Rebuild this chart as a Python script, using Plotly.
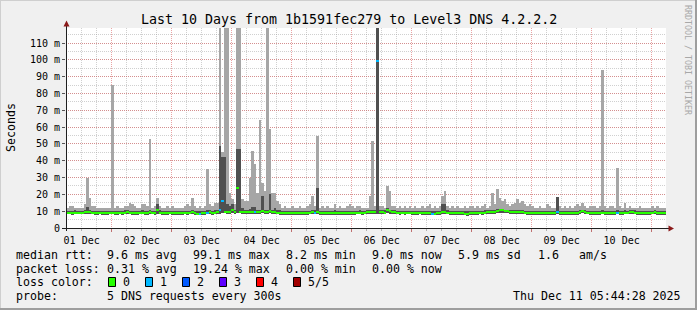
import plotly.graph_objects as go
import pandas as pd

# ---------------- data (hourly consolidated steps, values in ms) ----------------
t_start = "2025-12-01 05:44:28"
t_end = "2025-12-11 05:44:28"

# smoke top (max of pings per step)
smoke_hi = [
    12,13,13,12,12,12,12,14,30,18,13,13,12,12,12,12,12,12,
    85,12,13,12,12,13,13,15,14,13,12,12,14,14,13,53,12,13,18,13,12,12,13,12,
    13,12,12,12,12,13,14,13,18,13,12,13,12,13,35,14,13,15,15,120,45,120,120,21,
    17,14,120,120,17,16,16,30,46,38,21,64,27,22,120,59,21,21,16,14,12,13,12,12,
    13,12,12,13,12,12,13,14,19,13,55,12,13,12,13,12,12,14,12,13,12,12,13,14,
    13,12,13,13,12,12,12,19,52,13,120,13,13,12,25,22,13,13,12,13,12,13,12,13,
    12,13,12,12,13,12,13,14,12,13,12,13,19,22,13,12,13,12,13,12,12,13,12,13,
    13,12,13,12,13,14,12,13,21,14,23,18,16,17,14,13,14,15,17,15,16,14,13,14,
    13,12,12,13,12,12,14,13,12,12,18,13,12,13,12,13,12,13,14,13,15,13,12,13,
    13,13,12,13,94,13,12,13,13,12,36,13,12,15,12,13,12,12,12,13,12,12,12,12,
    13,12,13,12,12,12,
]

# inner smoke top (4th of 5 sorted pings)
smoke_inner = [
    10,10,10,10.5,10,10,10,10.5,12.4,11,10,10,10,10,10,10,10,10,
    10,10,10,10,10,10.5,10.5,10,10,10,10,10,10.5,10,10,10.5,10,10,14,10.5,10,10,10,10,
    10,10,10,10,10,10,10,10,10.5,10,10,10,10,10,10.5,10.5,10,10.5,10.5,49,42,42,14,13,
    14,11,47,47,12,11,11,11.5,12.5,12.5,11,11,19,11,11,20,11,12,10.5,10.5,10,10,10,10,
    10,10,10,10,10,10,10,10,10.5,10.5,24,10,10,10,10,10,10,10.5,10,10,10,10,10,10,
    10,10,10,10.5,10,10,10.5,11,11,10.5,120,11,10.5,10.5,12,11,10.5,10.5,10,10,10,10,10,10,
    10,10,10,10,10,10,10,10,10,10,10,10,14,14,10.5,10,10,10,10,10,10,10,10,10,
    10,10,10,10,10,10.5,10.5,10.5,11,10.5,11.5,11.5,11.5,11,11,10.5,10.5,10.5,10.5,10.5,10.5,10,10,10,
    10,10,10,10,10,10,10,10,10,10,18.4,10,10,10,10,10,10,10,10,10.5,11,10.5,10,10,
    10,10,10,10,10.5,10,10,10,10,10,10.5,10,10,10.5,10,10.5,10.7,10.5,10,10,10,10,10,10,
    10,10.7,10,10,10,10,
]

# smoke bottom (min of pings per step)
smoke_lo = [
    8.2,8.1,8.0,8.3,8.2,8.1,8.2,8.3,8.4,8.3,8.1,8.0,8.0,8.1,8.0,7.9,8.0,8.1,
    8.2,8.0,8.0,8.1,8.0,8.2,8.3,8.1,8.0,8.0,8.0,8.1,8.2,8.0,8.0,8.3,8.1,8.0,8.6,8.2,8.0,8.0,8.0,8.1,
    8.0,8.0,7.9,8.0,7.9,8.1,8.0,8.2,8.3,8.0,7.8,7.6,7.9,8.0,8.1,8.2,8.0,8.2,8.3,8.6,8.8,8.7,8.6,8.5,
    8.8,8.5,8.9,8.7,8.4,8.5,8.3,8.4,8.5,8.4,8.3,8.6,8.8,8.4,8.6,8.7,8.5,8.4,8.2,8.0,8.0,8.0,7.9,8.0,
    8.0,8.0,7.9,8.0,8.0,7.9,8.0,8.1,8.2,8.2,8.4,8.0,8.0,7.9,8.0,8.0,7.9,8.0,8.0,7.9,7.8,7.9,8.0,8.0,
    8.0,8.0,8.1,8.2,8.0,8.1,8.2,8.3,8.4,8.2,8.5,8.6,8.3,8.2,8.8,8.6,8.4,8.2,8.2,8.0,8.1,8.0,8.2,8.1,
    8.0,8.0,8.0,8.1,8.0,8.0,7.9,8.0,7.6,7.7,7.9,8.0,8.4,8.5,8.2,8.0,8.0,7.9,8.0,7.9,7.8,7.7,7.4,7.8,
    7.9,8.0,8.0,8.1,8.0,8.2,8.3,8.3,8.4,8.4,8.9,9.2,9.1,9.0,8.8,8.6,8.5,8.4,8.3,8.5,8.4,8.2,8.0,8.0,
    7.9,7.8,7.9,8.0,7.9,8.0,8.0,8.0,7.9,8.0,8.4,8.0,7.9,8.0,8.0,8.0,7.9,8.0,8.0,8.2,8.8,8.3,8.1,8.0,
    8.0,8.0,7.9,8.0,8.1,8.0,7.9,8.0,8.0,8.0,8.1,8.0,8.0,8.2,8.1,8.2,8.3,8.2,8.0,8.0,7.9,8.0,8.0,8.0,
    8.1,8.2,8.0,8.0,8.0,8.0,
]

# median rtt
median = [
    9.1,9.0,8.9,9.2,9.1,9.0,9.2,9.3,9.7,9.5,9.1,9.0,8.9,9.0,8.9,8.8,9.0,9.1,
    9.2,9.0,8.9,9.1,9.0,9.2,9.3,9.1,9.0,8.9,9.0,9.1,9.2,9.0,8.9,9.4,9.1,9.0,11.0,9.2,9.0,8.9,9.0,9.1,
    9.0,8.9,8.8,9.0,8.9,9.1,9.0,9.2,9.4,9.0,8.6,8.3,8.8,9.0,9.1,9.3,9.0,9.2,9.4,10.5,16.0,9.8,9.6,9.5,
    10.7,9.5,24.0,9.8,9.4,9.6,9.3,9.5,9.6,9.5,9.3,9.8,10.0,9.4,9.7,9.9,9.5,9.4,9.2,9.0,8.9,9.0,8.8,8.9,
    9.0,8.9,8.8,8.9,9.0,8.8,8.9,9.1,9.3,9.2,9.6,9.0,8.9,8.8,8.9,9.0,8.8,8.9,9.0,8.8,8.7,8.8,8.9,9.0,
    9.0,8.9,9.1,9.2,9.0,9.1,9.3,9.5,9.6,9.3,99.1,9.8,9.4,9.2,10.5,10.0,9.5,9.3,9.2,9.0,9.1,9.0,9.2,9.1,
    9.0,8.9,9.0,9.1,9.0,8.9,8.8,8.9,8.4,8.6,8.8,9.0,9.6,9.8,9.2,9.0,8.9,8.8,8.9,8.8,8.7,8.6,8.2,8.7,
    8.8,8.9,9.0,9.1,9.0,9.2,9.3,9.4,9.6,9.5,10.2,10.6,10.5,10.3,10.0,9.8,9.6,9.5,9.4,9.6,9.5,9.2,9.0,8.9,
    8.8,8.7,8.8,8.9,8.8,8.9,9.0,8.9,8.8,8.9,9.5,9.0,8.8,8.9,9.0,8.9,8.8,8.9,9.0,9.3,10.0,9.4,9.1,9.0,
    8.9,9.0,8.8,8.9,9.1,8.9,8.8,8.9,9.0,8.9,9.2,8.9,9.0,9.2,9.1,9.3,9.4,9.2,9.0,8.9,8.8,8.9,9.0,8.9,
    9.1,9.3,9.0,8.9,8.9,9.0,
]

# steps with packet loss (step index -> lost packets of 5)
loss_steps = [53, 56, 61, 62, 75, 99, 124, 146, 196, 220]
loss_counts = [1, 1, 1, 1, 1, 1, 1, 1, 1, 1]

y_ticks = [0, 10, 20, 30, 40, 50, 60, 70, 80, 90, 100, 110]
y_tick_text = ["0"] + [f"{v} m" for v in y_ticks[1:]]

loss_labels = ["0", "1", "2", "3", "4", "5/5"]
loss_colors = ["#26ff00", "#00b8ff", "#0059ff", "#5e00ff", "#ff0000", "#a10000"]

rtt_stats = ["9.6 ms avg", "99.1 ms max", "8.2 ms min", "9.0 ms now", "5.9 ms sd", "1.6", "am/s"]
loss_stats = ["0.31 % avg", "19.24 % max", "0.00 % min", "0.00 % now"]
probe_text = "5 DNS requests every 300s"
stamp_text = "Thu Dec 11 05:44:28 2025"
title_text = "Last 10 Days from 1b1591fec279 to Level3 DNS 4.2.2.2"

# ---------------- build ----------------
n = len(smoke_hi)
times = pd.date_range(pd.Timestamp(t_start) + pd.Timedelta(minutes=30), periods=n, freq="h")
step_ms = 3600 * 1000

loss = [0] * n
for s, c in zip(loss_steps, loss_counts):
    loss[s] = c
med_colors = [loss_colors[v] for v in loss]

MED_H = 1.2
fig = go.Figure()
fig.add_trace(go.Bar(x=times, base=smoke_lo, y=[h - l for h, l in zip(smoke_hi, smoke_lo)],
                     width=step_ms, marker=dict(color="#a6a6a6", line=dict(width=0)),
                     hoverinfo="skip"))
fig.add_trace(go.Bar(x=times, base=smoke_lo, y=[h - l for h, l in zip(smoke_inner, smoke_lo)],
                     width=step_ms, marker=dict(color="#505050", line=dict(width=0)),
                     hoverinfo="skip"))
fig.add_trace(go.Bar(x=times, base=[m - MED_H / 2 for m in median], y=[MED_H] * n,
                     width=step_ms, marker=dict(color=med_colors, line=dict(width=0)),
                     hoverinfo="skip"))

W, H = 697, 310
PL, PT, PW, PH = 66, 28, 600, 200


def px(x):
    return (x - PL) / PW


def py(y):
    return (PT + PH - y) / PH


MONO = "DejaVu Sans Mono"
MGRID = "rgba(215,90,90,0.55)"
GRID = "rgba(150,150,150,0.45)"

fig.update_layout(
    width=W, height=H,
    margin=dict(l=PL, r=W - PL - PW, t=PT, b=H - PT - PH, pad=0),
    paper_bgcolor="#f0f0f0", plot_bgcolor="#ffffff",
    barmode="overlay", bargap=0, showlegend=False,
    font=dict(family=MONO, size=10, color="#000000"),
)
fig.update_xaxes(
    type="date", range=[t_start, t_end],
    tick0="2025-12-01", dtick=86400000, tickformat="%d %b", ticklabelmode="period",
    showgrid=True, gridcolor=MGRID, griddash="1px,1px", gridwidth=1,
    ticks="outside", ticklen=3, tickcolor="#c07070",
    minor=dict(dtick=21600000, showgrid=True, gridcolor=GRID, griddash="1px,1px",
               ticks="outside", ticklen=2, tickcolor="#b0b0b0"),
    showline=False, zeroline=False, tickfont=dict(family=MONO, size=10),
    fixedrange=True,
)
fig.update_yaxes(
    range=[0, 119], tickvals=y_ticks, ticktext=y_tick_text,
    showgrid=True, gridcolor=MGRID, griddash="1px,1px", gridwidth=1,
    ticks="outside", ticklen=3, tickcolor="#555555",
    minor=dict(dtick=5, showgrid=True, gridcolor=GRID, griddash="1px,1px"),
    showline=False, zeroline=False, tickfont=dict(family=MONO, size=10),
    fixedrange=True,
)

shapes = []
# frame
shapes.append(dict(type="line", xref="paper", yref="paper", x0=px(0), x1=px(W), y0=py(0.5), y1=py(0.5),
                   line=dict(color="#cfcfcf", width=1)))
shapes.append(dict(type="line", xref="paper", yref="paper", x0=px(0.5), x1=px(0.5), y0=py(0), y1=py(H),
                   line=dict(color="#cfcfcf", width=1)))
shapes.append(dict(type="line", xref="paper", yref="paper", x0=px(W - 1), x1=px(W - 1), y0=py(0), y1=py(H),
                   line=dict(color="#9e9e9e", width=2)))
shapes.append(dict(type="line", xref="paper", yref="paper", x0=px(0), x1=px(W), y0=py(H - 1), y1=py(H - 1),
                   line=dict(color="#9e9e9e", width=2)))
# axes
shapes.append(dict(type="line", xref="paper", yref="paper", x0=px(66.5), x1=px(66.5), y0=py(231), y1=py(24),
                   line=dict(color="#1f1f1f", width=1)))
shapes.append(dict(type="line", xref="paper", yref="paper", x0=px(62), x1=px(670), y0=py(228.5), y1=py(228.5),
                   line=dict(color="#1f1f1f", width=1)))
# arrows
shapes.append(dict(type="path", xref="paper", yref="paper",
                   path=f"M {px(63.5)} {py(26.5)} L {px(69.5)} {py(26.5)} L {px(66.5)} {py(20.5)} Z",
                   fillcolor="#8b1a1a", line=dict(width=0)))
shapes.append(dict(type="path", xref="paper", yref="paper",
                   path=f"M {px(668.5)} {py(225.5)} L {px(668.5)} {py(231.5)} L {px(674)} {py(228.5)} Z",
                   fillcolor="#8b1a1a", line=dict(width=0)))
# loss colour boxes
box_x = [108, 145, 182, 219, 256, 293]
for bx, col in zip(box_x, loss_colors):
    shapes.append(dict(type="rect", xref="paper", yref="paper",
                       x0=px(bx + 0.5), x1=px(bx + 7.5), y0=py(277.5), y1=py(286.5),
                       fillcolor=col, line=dict(color="#000000", width=1)))
fig.update_layout(shapes=shapes)

ann = []


def txt(x, y, s, size=11.6, anchor="left", color="#000000", angle=0):
    ann.append(dict(x=px(x), y=py(y), xref="paper", yref="paper", text=s, showarrow=False,
                    xanchor=anchor, yanchor="middle", textangle=angle,
                    font=dict(family=MONO, size=size, color=color), borderpad=0, borderwidth=0))


txt(348.5, 19, title_text, size=13.3, anchor="center")
txt(11, 128, "Seconds", size=11.6, anchor="center", angle=-90)
txt(688, 60, "RRDTOOL / TOBI OETIKER", size=8.3, anchor="center", color="#a8a8a8", angle=90)

L1, L2, L3, L4 = 254.5, 268.5, 282, 296
txt(15.5, L1, "median rtt:")
for xx, s in zip([106.5, 192.5, 286, 372, 457.5, 537.5, 578.5], rtt_stats):
    txt(xx, L1, s)
txt(15.5, L2, "packet loss:")
for xx, s in zip([106.5, 192.5, 286, 372], loss_stats):
    txt(xx, L2, s)
txt(15.5, L3, "loss color:")
for bx, lab in zip(box_x, loss_labels):
    txt(bx + 14.5, L3, lab)
txt(15.5, L4, "probe:")
txt(106.5, L4, probe_text)
txt(681, L4, stamp_text, anchor="right")
fig.update_layout(annotations=ann)

fig.write_html("out.html")
